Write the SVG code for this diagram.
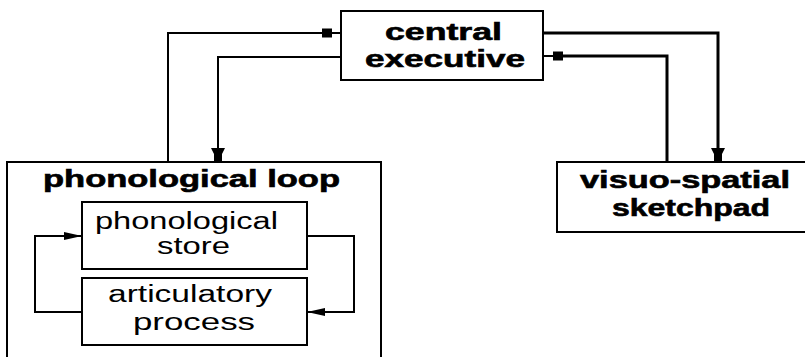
<svg xmlns="http://www.w3.org/2000/svg" width="805" height="357" viewBox="0 0 805 357">
  <style>
    .box { fill: #fff; stroke: #000; stroke-width: 2; }
    .wire { fill: none; stroke: #000; stroke-width: 2; }
    .wire.heavy { stroke-width: 3; }
    .title { font-family: "Liberation Sans", Arial, sans-serif; font-weight: bold; font-size: 23px; fill: #000; stroke: #000; stroke-width: 0.6; }
    .label { font-family: "Liberation Sans", Arial, sans-serif; font-size: 23px; fill: #000; }
  </style>
  <defs>
    <!-- flat-nosed arrowhead used where the executive feeds a slave system -->
    <marker id="tee" markerUnits="userSpaceOnUse" markerWidth="16" markerHeight="16" refX="13" refY="0" viewBox="0 -8 14 16" orient="auto" overflow="visible">
      <polygon points="0,-7 6,-4 13,-4 13,4 6,4 0,7" fill="#000"/>
    </marker>
    <!-- slim arrowhead for the rehearsal loop -->
    <marker id="arrow" markerUnits="userSpaceOnUse" markerWidth="20" markerHeight="10" refX="18" refY="0" viewBox="0 -5 19 10" orient="auto" overflow="visible">
      <polygon points="0,-4 18,0 0,4" fill="#000"/>
    </marker>
    <rect id="knob" x="-5" y="-4.5" width="10" height="9" fill="#000"/>
  </defs>

  <g id="connectors">
    <!-- phonological loop -> central executive -->
    <path class="wire" d="M168,162 V33 H341"/>
    <use href="#knob" x="327" y="33"/>
    <!-- central executive -> phonological loop -->
    <path class="wire" d="M341,57 H218 V161" marker-end="url(#tee)"/>
    <!-- central executive -> visuo-spatial sketchpad -->
    <path class="wire heavy" d="M543,33 H718 V161" marker-end="url(#tee)"/>
    <!-- visuo-spatial sketchpad -> central executive -->
    <path class="wire heavy" d="M667,162 V56 H560"/>
    <path class="wire" d="M560,56 H543"/>
    <use href="#knob" x="558" y="56"/>
  </g>

  <g id="central-executive">
    <rect class="box" x="341" y="11" width="202" height="69"/>
    <text class="title" x="385" y="40" textLength="117" lengthAdjust="spacingAndGlyphs">central</text>
    <text class="title" x="365" y="67" textLength="160" lengthAdjust="spacingAndGlyphs">executive</text>
  </g>

  <g id="visuo-spatial-sketchpad">
    <rect class="box" x="557" y="162" width="262" height="70"/>
    <text class="title" x="580" y="188" textLength="210" lengthAdjust="spacingAndGlyphs">visuo-spatial</text>
    <text class="title" x="612" y="216" textLength="158" lengthAdjust="spacingAndGlyphs">sketchpad</text>
  </g>

  <g id="phonological-loop">
    <rect class="box" x="7" y="162" width="374" height="220"/>
    <text class="title" x="43" y="187" textLength="297" lengthAdjust="spacingAndGlyphs">phonological loop</text>

    <g id="rehearsal-loop">
      <path class="wire" d="M82,312 H35 V236 H82" marker-end="url(#arrow)"/>
      <path class="wire" d="M307,236 H354 V312 H307" marker-end="url(#arrow)"/>
    </g>

    <g id="phonological-store">
      <rect class="box" x="82" y="202" width="225" height="67"/>
      <text class="label" x="95" y="229" textLength="183" lengthAdjust="spacingAndGlyphs">phonological</text>
      <text class="label" x="157" y="254" textLength="73" lengthAdjust="spacingAndGlyphs">store</text>
    </g>

    <g id="articulatory-process">
      <rect class="box" x="82" y="278" width="225" height="67"/>
      <text class="label" x="108" y="302" textLength="164" lengthAdjust="spacingAndGlyphs">articulatory</text>
      <text class="label" x="133" y="330" textLength="122" lengthAdjust="spacingAndGlyphs">process</text>
    </g>
  </g>
</svg>
